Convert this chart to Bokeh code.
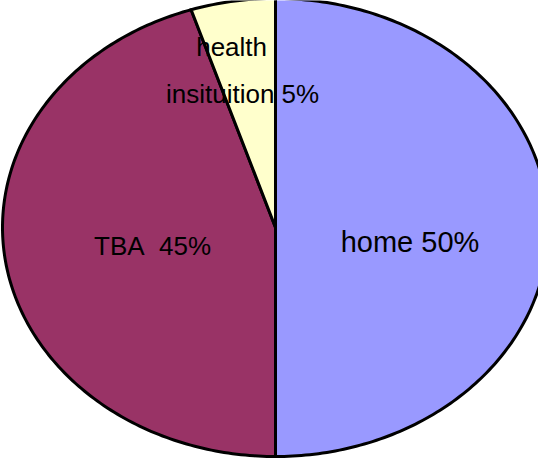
import numpy as np
from bokeh.plotting import figure
from bokeh.models import ColumnDataSource, Range1d
from bokeh.core.properties import value
from bokeh.embed import file_html
from bokeh.resources import INLINE

# ---- data ----
categories = ["home", "TBA", "health insituition"]
percents = [50, 45, 5]
label_lines = [["home 50%"], ["TBA\u00a0\u00a045%"], ["health", "insituition 5%"]]
colors = ["#9999FF", "#993366", "#FFFFCC"]

# ---- layout ----
W, H = 538, 458
CX, CY = 275, 227          # ellipse centre in figure pixels (from top-left)
RX, RY = 273, 229          # ellipse radii in pixels

x0 = -CX / RX
x1 = (W - CX) / RX
y0 = -(H - CY) / RY
y1 = CY / RY

p = figure(width=W, height=H, output_backend="svg", toolbar_location=None,
           x_range=Range1d(x0, x1), y_range=Range1d(y0, y1),
           min_border=0, outline_line_color=None,
           background_fill_color="white", border_fill_color="white")
p.axis.visible = False
p.grid.visible = False

vals = np.array(percents, dtype=float)
frac = vals / vals.sum()
cum = np.concatenate([[0], np.cumsum(frac)])
starts = np.pi / 2 - 2 * np.pi * cum[:-1]
ends = np.pi / 2 - 2 * np.pi * cum[1:]

xs, ys = [], []
for s, e in zip(starts, ends):
    n = max(4, int(abs(e - s) / (2 * np.pi) * 400))
    t = np.linspace(s, e, n)
    xs.append(np.concatenate([[0], np.cos(t), [0]]))
    ys.append(np.concatenate([[0], np.sin(t), [0]]))

src = ColumnDataSource(dict(xs=xs, ys=ys, color=colors, cat=categories))
p.patches("xs", "ys", source=src, fill_color="color", line_color="black",
          line_width=3, line_join="miter")

# ---- labels (anchored on each slice's mid-angle, nudged in pixels) ----
mids = (starts + ends) / 2
label_r = [[0.4927], [0.456], [0.70, 0.70]]
label_dx = [[0], [0], [-14, -3]]
label_dy = [[14], [2], [-22, 25]]
label_fs = [["29px"], ["26px"], ["26px", "26px"]]
tx, ty, tt, ox, oy, fs = [], [], [], [], [], []
for i, lines in enumerate(label_lines):
    for j, line in enumerate(lines):
        r = label_r[i][j]
        tx.append(r * np.cos(mids[i]))
        ty.append(r * np.sin(mids[i]))
        tt.append(line)
        ox.append(label_dx[i][j])
        oy.append(label_dy[i][j])
        fs.append(label_fs[i][j])

tsrc = ColumnDataSource(dict(x=tx, y=ty, text=tt, xo=ox, yo=oy, fs=fs))
p.text("x", "y", text="text", source=tsrc, x_offset="xo", y_offset="yo",
       text_font=value("Liberation Sans"), text_font_size="fs",
       text_align="center", text_baseline="alphabetic", text_color="black")

open("out.html", "w").write(file_html(p, INLINE))
